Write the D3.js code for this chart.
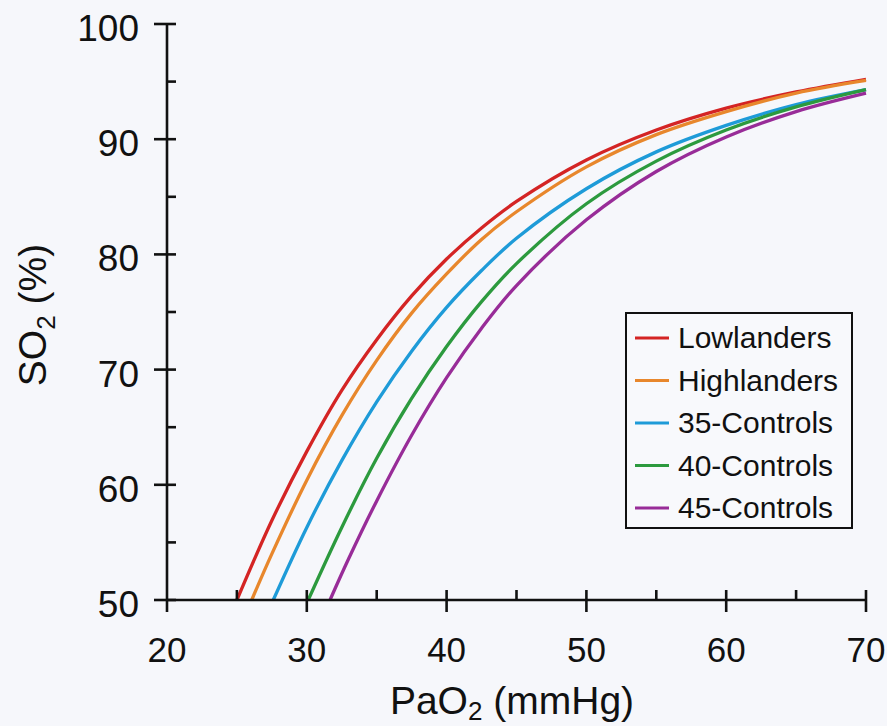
<!DOCTYPE html>
<html>
<head>
<meta charset="utf-8">
<script src="https://cdn.jsdelivr.net/npm/d3@7"></script>
<style>
  html, body { margin: 0; padding: 0; background: #f6f7fb; }
  svg { display: block; font-family: "Liberation Sans", Arial, Helvetica, sans-serif; }
</style>
</head>
<body>
<svg id="chart" width="887" height="726"></svg>
<script>
// ---- data ----
const seriesNames = ["Lowlanders", "Highlanders", "35-Controls", "40-Controls", "45-Controls"];
const seriesColors = ["#d42424", "#e8872c", "#1e9bd8", "#2c9a3e", "#982c98"];

// [PaO2 (mmHg), SO2 (%)]
const lowlanders  = [[25,50],[27.5,56.9],[30,62.9],[32.5,68.2],[35,72.6],[37.5,76.4],[40,79.6],[42.5,82.3],[45,84.6],[50,88.2],[55,90.8],[60,92.7],[65,94.1],[70,95.2]];
const highlanders = [[26.06,50],[27.5,54.0],[30,60.4],[32.5,66.0],[35,70.8],[37.5,74.9],[40,78.3],[42.5,81.3],[45,83.7],[50,87.6],[55,90.4],[60,92.4],[65,94.0],[70,95.1]];
const controls35  = [[27.6,50],[30,56.3],[32.5,62.1],[35,67.2],[37.5,71.6],[40,75.4],[42.5,78.6],[45,81.4],[50,85.7],[55,88.9],[60,91.2],[65,93.0],[70,94.3]];
const controls40  = [[30.1,50],[32.5,56.3],[35,62.3],[37.5,67.5],[40,72.0],[42.5,75.9],[45,79.2],[50,84.4],[55,88.1],[60,90.8],[65,92.8],[70,94.3]];
const controls45  = [[31.66,50],[33,53.6],[35,58.6],[37.5,64.3],[40,69.3],[42.5,73.6],[45,77.3],[50,83.0],[55,87.2],[60,90.2],[65,92.4],[70,94.0]];
const seriesData = [lowlanders, highlanders, controls35, controls40, controls45];

const xTicks = [20, 30, 40, 50, 60, 70];
const xMinorTicks = [25, 35, 45, 55, 65];
const yTicks = [50, 60, 70, 80, 90, 100];
const yMinorTicks = [55, 65, 75, 85, 95];

// ---- layout ----
const svg = d3.select("#chart");
const x = d3.scaleLinear().domain([20, 70]).range([167, 866]);
const y = d3.scaleLinear().domain([50, 100]).range([600, 24]);

// curves
const line = d3.line()
  .x(d => x(d[0]))
  .y(d => y(d[1]))
  .curve(d3.curveCatmullRom.alpha(0.5));

svg.append("g").selectAll("path")
  .data(seriesData)
  .join("path")
  .attr("d", line)
  .attr("fill", "none")
  .attr("stroke", (d, i) => seriesColors[i])
  .attr("stroke-width", 3.3)
  .attr("stroke-linecap", "butt");

// axes
const axisColor = "#111";
const gx = svg.append("g");
gx.append("line").attr("x1", x(20)).attr("x2", x(70)).attr("y1", y(50)).attr("y2", y(50))
  .attr("stroke", axisColor).attr("stroke-width", 2.6);
gx.selectAll(".maj").data(xTicks).join("line")
  .attr("x1", d => x(d)).attr("x2", d => x(d))
  .attr("y1", d => d === 20 ? y(50) : y(50) - 10).attr("y2", y(50) + 12)
  .attr("stroke", axisColor).attr("stroke-width", 2.6);
gx.selectAll(".min").data(xMinorTicks).join("line")
  .attr("x1", d => x(d)).attr("x2", d => x(d))
  .attr("y1", y(50) - 10).attr("y2", y(50))
  .attr("stroke", axisColor).attr("stroke-width", 2.6);
gx.selectAll("text").data(xTicks).join("text")
  .attr("x", d => x(d)).attr("y", 662)
  .attr("text-anchor", "middle")
  .attr("font-size", 35)
  .attr("fill", "#111")
  .text(d => d);

const gy = svg.append("g");
gy.append("line").attr("x1", x(20)).attr("x2", x(20)).attr("y1", y(50)).attr("y2", y(100))
  .attr("stroke", axisColor).attr("stroke-width", 2.6);
gy.selectAll(".maj").data(yTicks).join("line")
  .attr("y1", d => y(d)).attr("y2", d => y(d))
  .attr("x1", x(20) - 13).attr("x2", x(20) + 9)
  .attr("stroke", axisColor).attr("stroke-width", 2.6);
gy.selectAll(".min").data(yMinorTicks).join("line")
  .attr("y1", d => y(d)).attr("y2", d => y(d))
  .attr("x1", x(20)).attr("x2", x(20) + 9)
  .attr("stroke", axisColor).attr("stroke-width", 2.6);
gy.selectAll("text").data(yTicks).join("text")
  .attr("x", 139).attr("y", d => y(d) + 17)
  .attr("text-anchor", "end")
  .attr("font-size", 37)
  .attr("fill", "#111")
  .text(d => d);

// axis titles
const xt = svg.append("text")
  .attr("x", 512).attr("y", 714)
  .attr("text-anchor", "middle")
  .attr("font-size", 39)
  .attr("fill", "#111");
xt.append("tspan").text("PaO");
xt.append("tspan").attr("font-size", 26).attr("dy", 6).text("2");
xt.append("tspan").attr("dy", -6).text(" (mmHg)");

const yt = svg.append("text")
  .attr("transform", "translate(46,315) rotate(-90)")
  .attr("text-anchor", "middle")
  .attr("font-size", 39)
  .attr("fill", "#111");
yt.append("tspan").text("SO");
yt.append("tspan").attr("font-size", 26).attr("dy", 9).text("2");
yt.append("tspan").attr("dy", -9).text(" (%)");

// legend
const lg = svg.append("g");
lg.append("rect").attr("x", 626).attr("y", 313).attr("width", 226).attr("height", 215)
  .attr("fill", "#f8f9fc").attr("stroke", "#111").attr("stroke-width", 2);
const rowY = d3.scalePoint().domain(seriesNames).range([338, 508]);
const rows = lg.selectAll("g.row").data(seriesNames).join("g").attr("class", "row");
rows.append("line")
  .attr("x1", 635).attr("x2", 669)
  .attr("y1", d => rowY(d)).attr("y2", d => rowY(d))
  .attr("stroke", (d, i) => seriesColors[i]).attr("stroke-width", 3);
rows.append("text")
  .attr("x", 678).attr("y", d => rowY(d) + 10)
  .attr("font-size", 30)
  .attr("fill", "#111")
  .text(d => d);
</script>
</body>
</html>
